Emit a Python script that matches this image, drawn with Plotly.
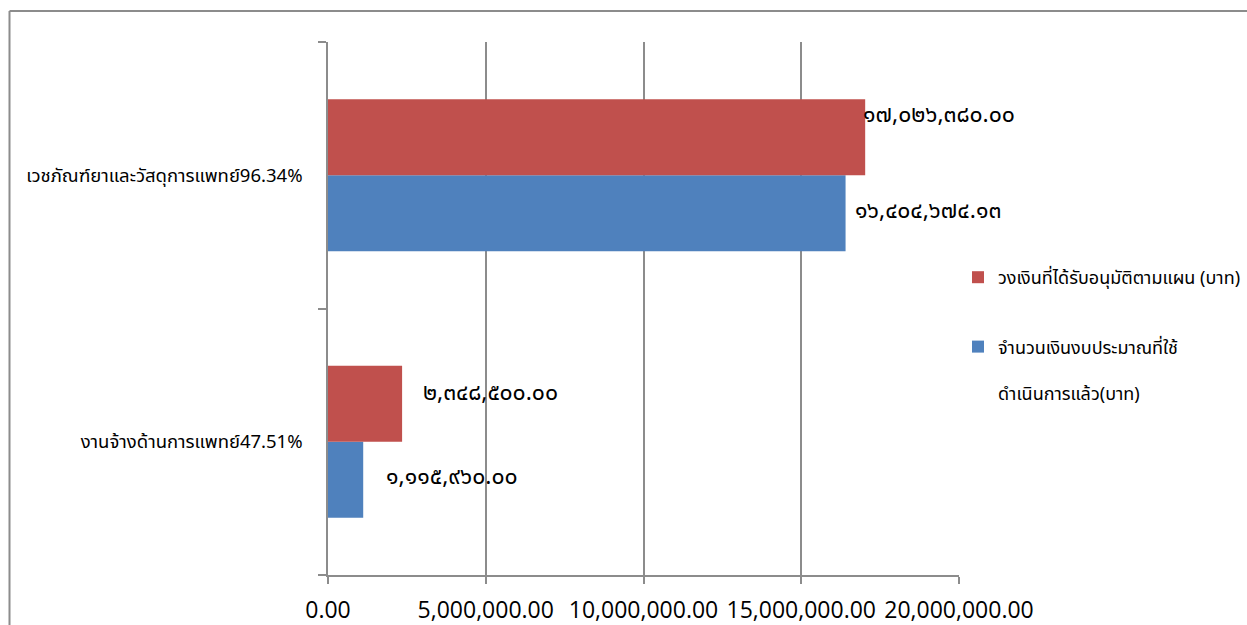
import plotly.graph_objects as go

categories = ["งานจ้างด้านการแพทย์47.51%", "เวชภัณฑ์ยาและวัสดุการแพทย์96.34%"]
series_names = ["จำนวนเงินงบประมาณที่ใช้<br><br>ดำเนินการแล้ว(บาท)", "วงเงินที่ได้รับอนุมัติตามแผน (บาท)"]
spent = [1115960.00, 16404674.13]
approved = [2348500.00, 17026380.00]
x_ticks = [0, 5000000, 10000000, 15000000, 20000000]

THAI_DIGITS = str.maketrans("0123456789", "๐๑๒๓๔๕๖๗๘๙")

def thai_num(v):
    return f"{v:,.2f}".translate(THAI_DIGITS)

BLUE = "#4F81BD"
RED = "#C0504D"
GRID = "#8C8C8C"
THAI_FONT = "Tahoma, 'Noto Sans Thai', 'Noto Sans', sans-serif"

fig = go.Figure()
fig.add_trace(go.Bar(
    y=categories, x=spent, orientation="h", name=series_names[0],
    marker=dict(color=BLUE, line=dict(width=0)),
    legendgroup="b", legendrank=2,
))
fig.add_trace(go.Bar(
    y=categories, x=approved, orientation="h", name=series_names[1],
    marker=dict(color=RED, line=dict(width=0)),
    legendgroup="a", legendrank=1,
))

# data labels (pixel nudges per label, as in the original manually placed labels)
label_style = {
    "spent": [dict(xshift=21, yshift=-35), dict(xshift=7, yshift=-36)],
    "approved": [dict(xshift=19, yshift=49), dict(xshift=-4, yshift=60)],
}
annotations = []
for key, vals in (("spent", spent), ("approved", approved)):
    for cat, v, st in zip(categories, vals, label_style[key]):
        annotations.append(dict(
            x=v, y=cat, xref="x", yref="y", text=thai_num(v), showarrow=False,
            xanchor="left", yanchor="middle", xshift=st["xshift"], yshift=st["yshift"],
            font=dict(size=23, color="#000000", family=THAI_FONT),
        ))

W, H = 1247, 625
L, R, T, B = 328, 288, 42, 50
pw, ph = W - L - R, H - T - B

def px(xp):
    return (xp - L) / pw

def py(yp):
    return (H - B - yp) / ph

fig.update_layout(
    width=W, height=H,
    margin=dict(l=L, r=R, t=T, b=B, autoexpand=False),
    paper_bgcolor="white", plot_bgcolor="white",
    barmode="group", bargap=0.43, bargroupgap=0,
    font=dict(family=THAI_FONT, size=16, color="#000000"),
    showlegend=True,
    legend=dict(
        x=px(958), y=py(259), xanchor="left", yanchor="top",
        traceorder="grouped", tracegroupgap=43, valign="top",
        font=dict(size=18, family=THAI_FONT, color="#000000"),
        itemwidth=30, bgcolor="rgba(0,0,0,0)",
    ),
    annotations=annotations,
    shapes=[
        dict(type="line", xref="paper", yref="paper", x0=px(9.5), x1=px(9.5), y0=py(11), y1=py(640),
             line=dict(color="#8C8C8C", width=2)),
        dict(type="line", xref="paper", yref="paper", x0=px(9.5), x1=px(1260), y0=py(11), y1=py(11),
             line=dict(color="#8C8C8C", width=2)),
    ],
)

fig.update_xaxes(
    range=[0, 20000000], tickvals=x_ticks, tickformat=",.2f",
    showgrid=True, gridcolor=GRID, gridwidth=1.5,
    showline=True, linecolor=GRID, linewidth=1.5,
    ticks="outside", ticklen=7, tickcolor=GRID, tickwidth=1.5,
    tickfont=dict(family="'Open Sans', sans-serif", size=23, color="#000000"),
    ticklabelstandoff=7, zeroline=False,
)
fig.update_yaxes(
    categoryorder="array", categoryarray=categories,
    showgrid=False, showline=True, linecolor=GRID, linewidth=1.5,
    ticks="outside", ticklen=8, tickcolor=GRID, tickwidth=1.5, tickson="boundaries",
    tickfont=dict(family=THAI_FONT, size=18.5, color="#000000"),
    ticklabelstandoff=20,
)

fig.write_html("out.html")
